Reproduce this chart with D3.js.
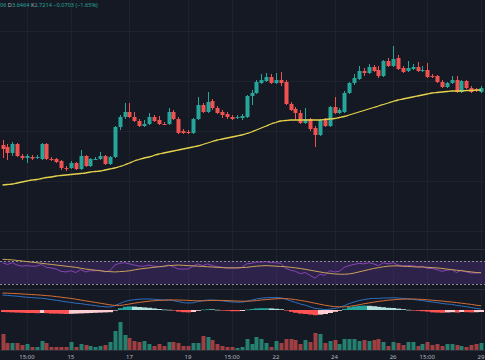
<!DOCTYPE html>
<html><head><meta charset="utf-8">
<script src="https://cdn.jsdelivr.net/npm/d3@7"></script>
<style>html,body{margin:0;padding:0;background:#151924;overflow:hidden}</style>
</head><body><svg id="c" width="485" height="360"></svg>
<script>
// ---- data (4h candles) ----
const open=[2.86,2.84,2.78,2.87,2.75,2.73,2.74,2.735,2.72,2.87,
 2.72,2.72,2.70,2.63,2.63,2.68,2.62,2.75,2.65,2.715,
 2.72,2.75,2.67,2.74,3.04,3.14,3.19,3.14,3.10,3.05,
 3.07,3.14,3.11,3.07,3.07,3.19,3.12,3.00,2.99,2.98,
 3.12,3.26,3.19,3.30,3.23,3.19,3.17,3.14,3.135,3.13,
 3.14,3.35,3.38,3.48,3.50,3.54,3.48,3.51,3.49,3.27,
 3.22,3.18,3.08,3.12,3.03,2.96,3.11,3.05,3.24,3.18,
 3.19,3.38,3.48,3.52,3.60,3.58,3.64,3.61,3.55,3.70,
 3.65,3.73,3.63,3.60,3.62,3.64,3.60,3.61,3.55,3.55,
 3.49,3.44,3.48,3.51,3.39,3.50,3.43,3.41,3.39];
const high=[2.91,2.87,2.89,2.88,2.77,2.77,2.76,2.76,2.88,2.88,
 2.74,2.73,2.71,2.65,2.70,2.69,2.81,2.76,2.73,2.74,
 2.79,2.76,2.75,3.05,3.16,3.28,3.28,3.19,3.12,3.11,
 3.18,3.16,3.15,3.09,3.23,3.21,3.14,3.02,3.01,3.13,
 3.34,3.28,3.39,3.32,3.25,3.21,3.19,3.16,3.16,3.17,
 3.36,3.41,3.51,3.57,3.58,3.57,3.58,3.59,3.51,3.29,
 3.24,3.21,3.23,3.13,3.05,3.12,3.13,3.25,3.34,3.23,
 3.40,3.49,3.57,3.65,3.63,3.67,3.66,3.65,3.71,3.73,
 3.85,3.76,3.65,3.70,3.67,3.69,3.65,3.68,3.57,3.56,
 3.51,3.49,3.55,3.55,3.51,3.51,3.45,3.43,3.45];
const low=[2.73,2.71,2.75,2.74,2.71,2.68,2.71,2.72,2.71,2.71,
 2.70,2.68,2.61,2.60,2.62,2.61,2.61,2.64,2.64,2.71,
 2.71,2.66,2.66,2.73,3.01,3.12,3.13,3.09,3.04,3.04,
 3.06,3.09,3.06,3.06,3.06,3.11,2.97,2.97,2.97,2.97,
 3.11,3.18,3.18,3.21,3.17,3.13,3.12,3.11,3.12,3.11,
 3.13,3.26,3.37,3.47,3.49,3.47,3.47,3.45,3.26,3.20,
 3.11,3.07,3.07,3.00,2.84,2.95,3.04,3.04,3.17,3.17,
 3.18,3.37,3.46,3.51,3.55,3.57,3.59,3.53,3.54,3.64,
 3.64,3.61,3.58,3.59,3.61,3.59,3.59,3.53,3.53,3.48,
 3.43,3.43,3.47,3.38,3.38,3.42,3.38,3.39,3.38];
const close=[2.82,2.78,2.87,2.75,2.73,2.75,2.725,2.74,2.87,2.72,
 2.715,2.69,2.63,2.625,2.68,2.62,2.75,2.65,2.72,2.72,
 2.75,2.67,2.74,3.04,3.14,3.19,3.14,3.10,3.05,3.07,
 3.14,3.10,3.07,3.065,3.19,3.12,2.98,2.98,2.985,3.12,
 3.26,3.19,3.29,3.23,3.18,3.16,3.14,3.12,3.14,3.15,
 3.35,3.38,3.49,3.51,3.54,3.48,3.51,3.48,3.27,3.21,
 3.18,3.08,3.12,3.02,2.96,3.11,3.05,3.24,3.18,3.21,
 3.38,3.48,3.53,3.60,3.58,3.64,3.60,3.55,3.70,3.65,
 3.72,3.62,3.59,3.63,3.64,3.60,3.61,3.54,3.54,3.49,
 3.44,3.48,3.51,3.39,3.50,3.43,3.39,3.405,3.43];
const maLine=[2.46,2.465,2.47,2.48,2.49,2.50,2.51,2.515,2.525,2.535,
 2.54,2.55,2.555,2.56,2.565,2.57,2.575,2.58,2.59,2.595,
 2.60,2.61,2.62,2.63,2.645,2.66,2.68,2.70,2.715,2.73,
 2.74,2.755,2.77,2.78,2.79,2.80,2.81,2.82,2.83,2.84,
 2.85,2.865,2.88,2.895,2.91,2.92,2.93,2.94,2.95,2.96,
 2.975,2.99,3.01,3.03,3.05,3.07,3.085,3.10,3.105,3.11,
 3.11,3.11,3.11,3.11,3.11,3.11,3.115,3.12,3.125,3.135,
 3.145,3.16,3.175,3.19,3.205,3.22,3.235,3.25,3.265,3.28,
 3.295,3.31,3.32,3.33,3.34,3.35,3.36,3.37,3.38,3.385,
 3.39,3.395,3.40,3.40,3.40,3.405,3.405,3.41,3.41];
const volume=[1600,700,700,700,500,600,300,300,900,700,
 300,300,300,300,800,300,600,500,400,300,
 400,500,800,1900,2800,1500,1200,900,800,900,
 600,400,600,400,800,800,700,400,400,700,
 700,1400,1300,1000,600,400,300,300,200,300,
 1100,600,1300,1100,700,300,900,700,1100,1100,
 1000,600,1000,800,1700,1600,700,900,1000,600,
 1100,1100,1100,900,1000,900,1000,1100,800,400,
 800,700,500,800,800,400,600,800,500,600,
 400,600,600,500,400,300,500,600,700];
const rsi=[67,64,67,63,61,62,61,61,64,59,
 58,56,52,51,53,50,55,51,53,53,
 54,51,53,63,66,67,65,63,61,61,
 63,61,60,60,63,60,56,56,56,61,
 65,62,65,62,60,59,58,58,58,59,
 65,66,68,68,69,67,67,66,57,54,
 52,48,50,45,40,47,45,53,51,52,
 59,62,64,66,65,67,65,62,67,65,
 67,63,61,62,62,60,61,57,57,55,
 52,54,55,50,54,51,49,49,50];
const rsiMa=[73,72.5,72,71,70,69,68,67,66,65,
 64,63,62,61,60,59,57.5,56,55,54,
 53,52,51.5,51,51.5,52,53,54.5,56,57,
 58,59,60,61,62,62.5,63,62.5,62,61.5,
 61,60.5,60,59.5,59,58.5,58,58,58,58.5,
 59,60,61,61.5,62,61.5,61,60.5,60,59,
 58,57,55.5,54,52.5,51,49.5,48.5,47.5,47,
 47,47.5,49,51,53,55,57,58.5,60,61,
 61.5,61.5,61,60.5,60,59.5,59.5,59,58.5,58,
 57,56,55,54,53,52,51,50,49.5];
const macd=[.075,.073,.071,.069,.066,.064,.062,.060,.059,.056,
 .052,.049,.045,.041,.038,.034,.032,.028,.025,.022,
 .018,.016,.015,.022,.032,.042,.048,.052,.054,.055,
 .055,.054,.052,.050,.050,.047,.042,.037,.035,.036,
 .042,.046,.050,.050,.048,.046,.043,.040,.039,.039,
 .044,.049,.055,.059,.061,.062,.062,.061,.054,.046,
 .038,.030,.024,.016,.008,.006,.002,.004,.008,.012,
 .022,.032,.040,.047,.052,.056,.058,.058,.060,.060,
 .061,.060,.058,.056,.053,.050,.047,.043,.040,.037,
 .033,.030,.028,.023,.020,.016,.012,.008,.005];
const signal=[.085,.084,.083,.082,.080,.079,.077,.076,.074,.072,
 .070,.067,.064,.061,.058,.054,.050,.046,.042,.038,
 .034,.030,.026,.023,.023,.026,.030,.034,.038,.041,
 .044,.046,.048,.049,.050,.050,.050,.049,.048,.047,
 .046,.046,.047,.048,.048,.048,.047,.046,.045,.044,
 .044,.045,.047,.050,.052,.054,.056,.057,.057,.055,
 .052,.048,.044,.039,.034,.029,.024,.020,.017,.016,
 .016,.018,.022,.026,.031,.035,.039,.043,.046,.049,
 .051,.053,.054,.055,.055,.054,.053,.051,.049,.047,
 .045,.042,.040,.037,.034,.031,.028,.024,.021];
const hist=[-.010,-.011,-.012,-.013,-.014,-.015,-.015,-.016,-.015,-.016,
 -.018,-.018,-.019,-.020,-.019,-.018,-.017,-.016,-.015,-.014,
 -.013,-.012,-.011,-.001,.009,.016,.018,.017,.015,.013,
 .011,.008,.005,.002,.001,-.003,-.008,-.011,-.012,-.010,
 -.004,.002,.004,.003,.001,-.002,-.004,-.006,-.006,-.005,
 .002,.005,.008,.009,.009,.008,.006,.004,-.003,-.009,
 -.014,-.018,-.020,-.023,-.026,-.023,-.020,-.015,-.009,-.004,
 .006,.014,.018,.021,.022,.021,.019,.016,.014,.011,
 .010,.007,.004,.001,-.002,-.004,-.006,-.008,-.012,-.013,
 -.014,-.012,-.011,-.013,-.010,-.011,-.012,-.011,-.010];
const tickIndex=[5,14,26,38,47,56,68,80,87,98];
const tickLabels=["15:00","15","17","19","15:00","22","24","26","15:00","29"];
const priceGrid=[4.0,3.5,3.0,2.5,2.0];
const rsiBands=[70,30];

// ---- drawing ----
const W=485,H=360;
const C={bg:"#151924",grid:"#1e222d",sep:"#2a2e39",up:"#26a69a",down:"#ef5350",
 volUp:"#25806f",volDown:"#a03f42",ma:"#e4d24c",rsi:"#9b4dca",rsiMa:"#caa25a",
 macd:"#2f6fc0",sig:"#d26f37",text:"#b2b5be"};
const svg=d3.select("#c");
svg.append("rect").attr("width",W).attr("height",H).attr("fill",C.bg);

const x=d3.scaleLinear().domain([0,98]).range([2.5,481]);
const px=i=>Math.round(x(i));
const yP=d3.scaleLinear().domain([1.83,4.31]).range([248,0]);
const yR=d3.scaleLinear().domain([30,70]).range([284,261]);
const yM=d3.scaleLinear().domain([-0.03,0.12]).range([316,286]);
const yV=d3.scaleLinear().domain([0,3000]).range([350,320]);
const idx=d3.range(close.length);

// grid
svg.append("g").selectAll("line").data(tickIndex).join("line")
 .attr("x1",d=>px(d)+0.5).attr("x2",d=>px(d)+0.5).attr("y1",0).attr("y2",350)
 .attr("stroke",C.grid).attr("stroke-width",1);
svg.append("g").selectAll("line").data(priceGrid).join("line")
 .attr("x1",0).attr("x2",W).attr("y1",d=>Math.round(yP(d))+0.5).attr("y2",d=>Math.round(yP(d))+0.5)
 .attr("stroke",C.grid).attr("stroke-width",1);

// separators
[249.5,289.5,350.5].forEach(y=>svg.append("line").attr("x1",0).attr("x2",W).attr("y1",y).attr("y2",y)
 .attr("stroke",C.sep).attr("stroke-width",1));

// clip main
svg.append("clipPath").attr("id","mainClip").append("rect").attr("x",0).attr("y",0).attr("width",W).attr("height",248);
const main=svg.append("g").attr("clip-path","url(#mainClip)");

// candles
const isUp=i=>close[i]>=open[i];
main.append("g").selectAll("line").data(idx).join("line")
 .attr("x1",i=>px(i)+0.5).attr("x2",i=>px(i)+0.5)
 .attr("y1",i=>yP(high[i])).attr("y2",i=>yP(low[i]))
 .attr("stroke",i=>isUp(i)?C.up:C.down).attr("stroke-width",1);
main.append("g").selectAll("rect").data(idx).join("rect")
 .attr("x",i=>px(i)-1.5).attr("width",4)
 .attr("y",i=>yP(Math.max(open[i],close[i])))
 .attr("height",i=>Math.max(1,Math.abs(yP(open[i])-yP(close[i]))))
 .attr("fill",i=>isUp(i)?C.up:C.down);

// moving average
main.append("path").datum(idx)
 .attr("d",d3.line().x(i=>x(i)).y(i=>yP(maLine[i])).curve(d3.curveMonotoneX))
 .attr("fill","none").attr("stroke",C.ma).attr("stroke-width",1.3);

// RSI pane
svg.append("rect").attr("x",0).attr("width",W).attr("y",yR(70)).attr("height",yR(30)-yR(70))
 .attr("fill","#7e3fc2").attr("fill-opacity",0.24);
svg.append("g").selectAll("line").data(rsiBands).join("line")
 .attr("x1",0).attr("x2",W).attr("y1",d=>Math.round(yR(d))+0.5).attr("y2",d=>Math.round(yR(d))+0.5)
 .attr("stroke","#8a8d98").attr("stroke-width",1).attr("stroke-dasharray","2,2");
svg.append("path").datum(idx)
 .attr("d",d3.line().x(i=>x(i)).y(i=>yR(rsi[i])))
 .attr("fill","none").attr("stroke",C.rsi).attr("stroke-width",0.9).attr("stroke-opacity",0.9);
svg.append("path").datum(idx)
 .attr("d",d3.line().x(i=>x(i)).y(i=>yR(rsiMa[i])).curve(d3.curveMonotoneX))
 .attr("fill","none").attr("stroke",C.rsiMa).attr("stroke-width",1);

// MACD pane
const histColor=i=>{
 const v=hist[i],p=i>0?hist[i-1]:v;
 if(v>=0) return v>=p?"#26a69a":"#b2dfdb";
 return v<=p?"#ff5252":"#ffcdd2";
};
svg.append("g").selectAll("rect").data(idx).join("rect")
 .attr("x",i=>px(i)-2).attr("width",5)
 .attr("y",i=>Math.min(yM(0),yM(hist[i])))
 .attr("height",i=>Math.max(0.6,Math.abs(yM(hist[i])-yM(0))))
 .attr("fill",histColor);
svg.append("path").datum(idx)
 .attr("d",d3.line().x(i=>x(i)).y(i=>yM(macd[i])).curve(d3.curveMonotoneX))
 .attr("fill","none").attr("stroke",C.macd).attr("stroke-width",1);
svg.append("path").datum(idx)
 .attr("d",d3.line().x(i=>x(i)).y(i=>yM(signal[i])).curve(d3.curveMonotoneX))
 .attr("fill","none").attr("stroke",C.sig).attr("stroke-width",1);

// volume
svg.append("g").selectAll("rect").data(idx).join("rect")
 .attr("x",i=>px(i)-1.5).attr("width",4)
 .attr("y",i=>yV(volume[i])).attr("height",i=>yV(0)-yV(volume[i]))
 .attr("fill",i=>isUp(i)?C.volUp:C.volDown);

// x axis labels
svg.append("g").selectAll("text").data(tickIndex).join("text")
 .attr("x",d=>x(d)).attr("y",358.5).attr("text-anchor","middle")
 .attr("font-family","Noto Sans, DejaVu Sans, sans-serif").attr("font-size",6)
 .attr("fill",C.text).text((d,k)=>tickLabels[k]);

// header legend
const hdr=svg.append("text").attr("x",0).attr("y",6.5).attr("font-family","Noto Sans, DejaVu Sans, sans-serif")
 .attr("font-size",5.6);
[["06 ","#26a69a"],["D","#b2b5be"],["3.6464 ","#26a69a"],["K","#b2b5be"],["2.7214 ","#26a69a"],["−0.0703 (−1.65%)","#26a69a"]]
 .forEach(([t,c])=>hdr.append("tspan").attr("fill",c).text(t));
</script></body></html>
